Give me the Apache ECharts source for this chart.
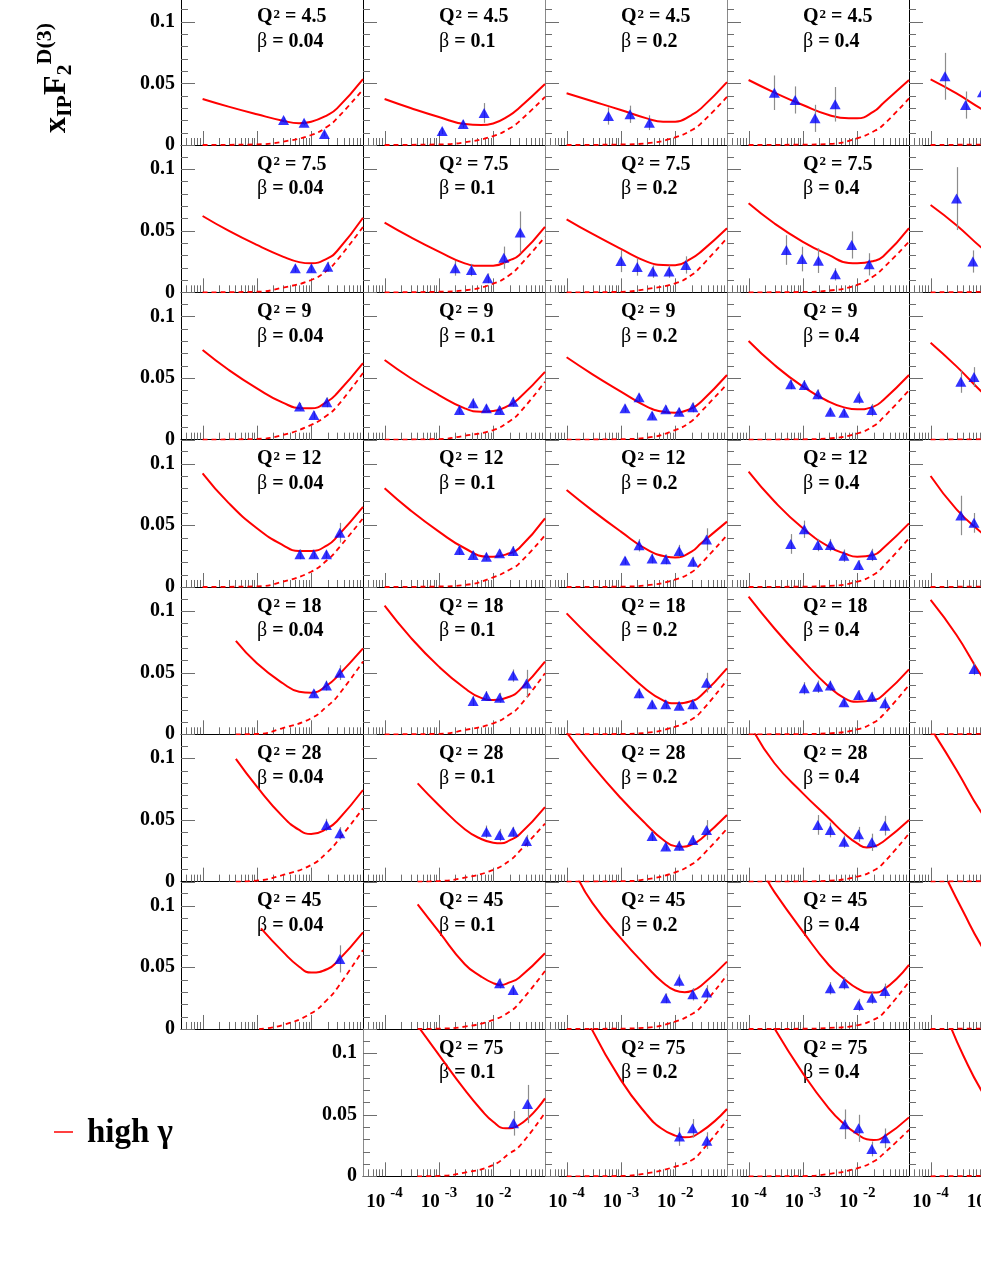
<!DOCTYPE html>
<html><head><meta charset="utf-8">
<script src="https://cdn.jsdelivr.net/npm/echarts@6/dist/echarts.min.js"></script>
<style>html,body{margin:0;padding:0;background:#fff}#c{width:981px;height:1269px}</style>
</head><body><div id="c"></div>
<script>
// ---------------- data ----------------
const Q2 = [4.5, 7.5, 9, 12, 18, 28, 45, 75];
const BETA = [0.04, 0.1, 0.2, 0.4];
const Y_TICK_LABELS = [0, 0.05, 0.1];
const X_DECADES = [1e-4, 1e-3, 1e-2];

// solid (full model) curves, one array per beta column
const solidQ4_5 = [
 [[1e-4,0.0373],[3e-4,0.0311],[1e-3,0.0249],[3e-3,0.0197],[6e-3,0.0177],[1e-2,0.0189],[2e-2,0.0243],[3e-2,0.0297],[0.09,0.0535]],
 [[1e-4,0.0373],[3e-4,0.030],[1e-3,0.0227],[3e-3,0.017],[6e-3,0.0162],[1e-2,0.0175],[2e-2,0.024],[3e-2,0.030],[0.09,0.0495]],
 [[1e-4,0.0419],[3e-4,0.0355],[1e-3,0.0284],[3e-3,0.0216],[6e-3,0.0189],[1e-2,0.0189],[2e-2,0.0243],[3e-2,0.0297],[0.09,0.051]],
 [[1e-4,0.0527],[3e-4,0.0425],[1e-3,0.0324],[3e-3,0.0243],[7e-3,0.0216],[1e-2,0.0216],[2e-2,0.027],[3e-2,0.0338],[0.09,0.0527]],
 [[1e-4,0.0532],[3e-4,0.0418],[8.5e-4,0.0294],[1.2e-3,0.026]]
];
const dashedQ4_5 = [
 [[1e-4,0],[1e-3,0.0005],[3e-3,0.0027],[1e-2,0.0081],[2e-2,0.015],[3e-2,0.0216],[0.09,0.045]],
 [[1e-4,0],[1e-3,0.0005],[3e-3,0.0022],[1e-2,0.0072],[2e-2,0.0135],[3e-2,0.019],[0.09,0.039]],
 [[1e-4,0],[1e-3,0.0004],[3e-3,0.0014],[1e-2,0.0062],[2e-2,0.012],[3e-2,0.0176],[0.09,0.039]],
 [[1e-4,0],[1e-3,0.0003],[3e-3,0.0008],[1e-2,0.0054],[2e-2,0.011],[3e-2,0.0162],[0.09,0.0378]],
 [[1e-4,0],[1.2e-3,0.0004]]
];
const pointsQ4_5 = [
 [[3.1e-3,0.0203,0.002],[7.4e-3,0.018,0.002],[1.75e-2,0.009,0.002]],
 [[1.15e-3,0.0114,0.0025],[2.8e-3,0.017,0.003],[6.8e-3,0.026,0.008]],
 [[5.9e-4,0.0235,0.007],[1.47e-3,0.0249,0.007],[3.35e-3,0.0181,0.006]],
 [[2.98e-4,0.0424,0.014],[7.2e-4,0.0365,0.011],[1.67e-3,0.0216,0.011],[3.92e-3,0.033,0.014]],
 [[1.84e-4,0.0557,0.019],[4.4e-4,0.0324,0.011],[9e-4,0.0427,0.006]]
];

const solidQ7_5 = [
 [[1e-4,0.0619],[3e-4,0.050],[1e-3,0.0384],[3e-3,0.029],[6e-3,0.0245],[1e-2,0.0235],[2e-2,0.0276],[3e-2,0.0335],[0.09,0.0605]],
 [[1e-4,0.0565],[3e-4,0.0447],[1e-3,0.033],[3e-3,0.0235],[6e-3,0.0215],[1e-2,0.0216],[2e-2,0.026],[3e-2,0.030],[0.09,0.053]],
 [[1e-4,0.0592],[3e-4,0.0473],[1e-3,0.0352],[3e-3,0.0249],[6e-3,0.0222],[1e-2,0.022],[2e-2,0.0276],[3e-2,0.033],[0.09,0.052]],
 [[1e-4,0.0722],[3e-4,0.0558],[1e-3,0.041],[3e-3,0.0303],[7e-3,0.0238],[1e-2,0.0236],[2e-2,0.0254],[3e-2,0.029],[0.09,0.052]],
 [[1e-4,0.0708],[3e-4,0.0544],[8.5e-4,0.0365],[1.2e-3,0.032]]
];
const dashedQ7_5 = [
 [[1e-4,0],[1e-3,0.0005],[3e-3,0.0038],[1e-2,0.01],[2e-2,0.018],[3e-2,0.026],[0.09,0.053]],
 [[1e-4,0],[1e-3,0.0005],[3e-3,0.0016],[1e-2,0.007],[2e-2,0.014],[3e-2,0.021],[0.09,0.045]],
 [[1e-4,0],[1e-3,0.0004],[3e-3,0.0027],[1e-2,0.0073],[2e-2,0.014],[3e-2,0.021],[0.09,0.044]],
 [[1e-4,0],[1e-3,0.0003],[3e-3,0.0014],[1e-2,0.006],[2e-2,0.013],[3e-2,0.0195],[0.09,0.041]],
 [[1e-4,0],[1.2e-3,0.0004]]
];
const pointsQ7_5 = [
 [[5.1e-3,0.0195,0.003],[1.01e-2,0.0195,0.003],[2.02e-2,0.0208,0.004]],
 [[1.99e-3,0.0195,0.006],[3.98e-3,0.0181,0.005],[7.9e-3,0.0114,0.004],[1.57e-2,0.0281,0.009],[3.14e-2,0.0486,0.017]],
 [[1e-3,0.0254,0.009],[2e-3,0.0205,0.007],[3.86e-3,0.0168,0.005],[7.7e-3,0.0168,0.005],[1.57e-2,0.0222,0.007]],
 [[4.95e-4,0.0343,0.012],[9.6e-4,0.027,0.01],[1.93e-3,0.0257,0.01],[3.97e-3,0.0146,0.005],[7.9e-3,0.0384,0.011],[1.66e-2,0.0227,0.009]],
 [[3.0e-4,0.076,0.0255],[6.0e-4,0.025,0.009]]
];

const solidQ9 = [
 [[1e-4,0.0727],[3e-4,0.0567],[1e-3,0.0416],[3e-3,0.030],[7e-3,0.0254],[1e-2,0.0254],[2e-2,0.031],[3e-2,0.0376],[0.09,0.062]],
 [[1e-4,0.0646],[3e-4,0.050],[1e-3,0.0362],[3e-3,0.0254],[6e-3,0.0227],[1e-2,0.0232],[2e-2,0.028],[3e-2,0.0335],[0.09,0.055]],
 [[1e-4,0.0668],[3e-4,0.053],[1e-3,0.039],[3e-3,0.0268],[6e-3,0.0227],[1e-2,0.0219],[2e-2,0.0254],[3e-2,0.0308],[0.09,0.0524]],
 [[1e-4,0.080],[3e-4,0.0605],[1e-3,0.043],[3e-3,0.0308],[6e-3,0.026],[1e-2,0.0246],[2e-2,0.0268],[3e-2,0.032],[0.09,0.0524]],
 [[1e-4,0.0786],[3e-4,0.0594],[8.5e-4,0.0393],[1.2e-3,0.034]]
];
const dashedQ9 = [
 [[1e-4,0],[1e-3,0.0006],[3e-3,0.0038],[1e-2,0.012],[2e-2,0.02],[3e-2,0.027],[0.09,0.054]],
 [[1e-4,0],[1e-3,0.0005],[3e-3,0.0032],[1e-2,0.0078],[2e-2,0.015],[3e-2,0.0214],[0.09,0.047]],
 [[1e-4,0],[1e-3,0.0004],[3e-3,0.0016],[1e-2,0.0078],[2e-2,0.015],[3e-2,0.0227],[0.09,0.045]],
 [[1e-4,0],[1e-3,0.0003],[3e-3,0.001],[1e-2,0.005],[2e-2,0.011],[3e-2,0.0178],[0.09,0.040]],
 [[1e-4,0],[1.2e-3,0.0004]]
];
const pointsQ9 = [
 [[6.1e-3,0.0268,0.003],[1.12e-2,0.020,0.003],[1.94e-2,0.0303,0.004]],
 [[2.39e-3,0.024,0.003],[4.27e-3,0.0295,0.004],[7.5e-3,0.0254,0.003],[1.31e-2,0.024,0.003],[2.33e-2,0.0308,0.004]],
 [[1.19e-3,0.0254,0.003],[2.16e-3,0.0343,0.003],[3.75e-3,0.0195,0.003],[6.7e-3,0.0246,0.003],[1.18e-2,0.0227,0.003],[2.11e-2,0.0262,0.004]],
 [[5.96e-4,0.0449,0.004],[1.06e-3,0.0443,0.004],[1.88e-3,0.0368,0.004],[3.2e-3,0.0227,0.003],[5.7e-3,0.0219,0.003],[1.06e-2,0.034,0.005],[1.86e-2,0.024,0.005]],
 [[3.6e-4,0.047,0.009],[6.3e-4,0.0508,0.008]]
];

const solidQ12 = [
 [[1e-4,0.0922],[3e-4,0.0682],[1e-3,0.0476],[3e-3,0.034],[6e-3,0.0292],[1e-2,0.0292],[2e-2,0.034],[3e-2,0.0408],[0.09,0.065]],
 [[1e-4,0.080],[3e-4,0.0621],[1e-3,0.0449],[3e-3,0.0314],[8e-3,0.0246],[1e-2,0.0246],[2e-2,0.0273],[3e-2,0.0314],[0.09,0.0557]],
 [[1e-4,0.0786],[3e-4,0.0619],[1e-3,0.0449],[3e-3,0.0305],[7e-3,0.0246],[1e-2,0.024],[2e-2,0.0286],[3e-2,0.0354],[0.09,0.053]],
 [[1e-4,0.0935],[3e-4,0.0693],[1e-3,0.0476],[3e-3,0.0327],[6e-3,0.027],[1e-2,0.0246],[2e-2,0.026],[3e-2,0.0314],[0.09,0.0516]],
 [[1e-4,0.090],[3e-4,0.063],[8.5e-4,0.0443],[1.2e-3,0.039]]
];
const dashedQ12 = [
 [[1e-4,0],[1e-3,0.0005],[3e-3,0.0043],[1e-2,0.0124],[2e-2,0.022],[3e-2,0.030],[0.09,0.0557]],
 [[1e-4,0],[1e-3,0.0004],[3e-3,0.0016],[1e-2,0.0078],[2e-2,0.014],[3e-2,0.019],[0.09,0.042]],
 [[1e-4,0],[1e-3,0.0003],[3e-3,0.0014],[1e-2,0.006],[2e-2,0.012],[3e-2,0.019],[0.09,0.042]],
 [[1e-4,0],[1e-3,0.0003],[3e-3,0.0008],[1e-2,0.0043],[2e-2,0.01],[3e-2,0.0165],[0.09,0.0395]],
 [[1e-4,0],[1.2e-3,0.0004]]
];
const pointsQ12 = [
 [[6.2e-3,0.0265,0.004],[1.12e-2,0.0265,0.003],[1.91e-2,0.0265,0.003],[3.37e-2,0.044,0.008]],
 [[2.39e-3,0.030,0.004],[4.27e-3,0.026,0.003],[7.5e-3,0.0246,0.003],[1.31e-2,0.0273,0.003],[2.33e-2,0.0292,0.004]],
 [[1.19e-3,0.0214,0.003],[2.16e-3,0.0338,0.005],[3.75e-3,0.0232,0.004],[6.7e-3,0.0224,0.004],[1.18e-2,0.0292,0.005],[2.11e-2,0.0205,0.004],[3.78e-2,0.0386,0.009]],
 [[5.96e-4,0.0349,0.008],[1.06e-3,0.0468,0.007],[1.88e-3,0.034,0.005],[3.2e-3,0.034,0.005],[5.7e-3,0.0254,0.005],[1.06e-2,0.0178,0.004],[1.86e-2,0.026,0.005]],
 [[3.6e-4,0.058,0.016],[6.3e-4,0.052,0.008]]
];

const solidQ18 = [
 [[4.1e-4,0.0757],[1e-3,0.0576],[3e-3,0.0414],[6e-3,0.0346],[1e-2,0.0338],[2e-2,0.040],[3e-2,0.0468],[0.09,0.0697]],
 [[1e-4,0.1043],[3e-4,0.0786],[1e-3,0.0549],[3e-3,0.0373],[6e-3,0.0295],[1e-2,0.0278],[2e-2,0.0305],[3e-2,0.0354],[0.09,0.059]],
 [[1e-4,0.0981],[3e-4,0.0769],[1e-3,0.0549],[3e-3,0.036],[6e-3,0.0275],[1e-2,0.0251],[2e-2,0.027],[3e-2,0.0315],[0.09,0.0535]],
 [[1e-4,0.1116],[3e-4,0.0858],[1e-3,0.060],[3e-3,0.0386],[6e-3,0.029],[1e-2,0.0265],[2e-2,0.0278],[3e-2,0.0319],[0.09,0.0527]],
 [[1e-4,0.109],[3e-4,0.0805],[8.5e-4,0.048],[1.2e-3,0.041]]
];
const dashedQ18 = [
 [[4.1e-4,0],[1e-3,0.0003],[3e-3,0.005],[1e-2,0.013],[2e-2,0.023],[3e-2,0.0305],[0.09,0.059]],
 [[1e-4,0],[1e-3,0.0004],[3e-3,0.0035],[1e-2,0.0089],[2e-2,0.016],[3e-2,0.0224],[0.09,0.0495]],
 [[1e-4,0],[1e-3,0.0003],[3e-3,0.0013],[1e-2,0.0062],[2e-2,0.012],[3e-2,0.0184],[0.09,0.044]],
 [[1e-4,0],[1e-3,0.0002],[3e-3,0.0008],[1e-2,0.004],[2e-2,0.0095],[3e-2,0.0157],[0.09,0.040]],
 [[1e-4,0],[1.2e-3,0.0004]]
];
const pointsQ18 = [
 [[1.12e-2,0.0332,0.003],[1.91e-2,0.0395,0.004],[3.37e-2,0.050,0.006]],
 [[4.27e-3,0.027,0.004],[7.5e-3,0.031,0.004],[1.31e-2,0.0297,0.004],[2.33e-2,0.0476,0.005],[4.11e-2,0.0413,0.011]],
 [[2.16e-3,0.0332,0.004],[3.75e-3,0.0243,0.003],[6.7e-3,0.0243,0.003],[1.18e-2,0.0232,0.003],[2.11e-2,0.0243,0.004],[3.78e-2,0.0419,0.008]],
 [[1.06e-3,0.0373,0.005],[1.88e-3,0.0386,0.005],[3.2e-3,0.0395,0.004],[5.7e-3,0.026,0.003],[1.06e-2,0.0319,0.004],[1.86e-2,0.0305,0.004],[3.23e-2,0.0251,0.005]],
 [[6.3e-4,0.053,0.005]]
];

const solidQ28 = [
 [[4.1e-4,0.0995],[1e-3,0.077],[3e-3,0.0527],[6e-3,0.0419],[1e-2,0.0386],[2e-2,0.0432],[3e-2,0.0492],[0.09,0.0743]],
 [[4.06e-4,0.0797],[1e-3,0.062],[3e-3,0.0425],[6e-3,0.0346],[1e-2,0.0316],[1.4e-2,0.0311],[2e-2,0.0335],[3e-2,0.038],[0.09,0.0605]],
 [[1e-4,0.121],[3e-4,0.094],[1e-3,0.0676],[3e-3,0.046],[6e-3,0.034],[1e-2,0.0288],[1.4e-2,0.0283],[2e-2,0.030],[3e-2,0.0346],[0.09,0.054]],
 [[1.2e-4,0.123],[3e-4,0.096],[1e-3,0.0716],[3e-3,0.0514],[6e-3,0.0385],[1e-2,0.031],[1.5e-2,0.0276],[2e-2,0.0284],[3e-2,0.0324],[0.09,0.050]],
 [[1.2e-4,0.119],[3e-4,0.0906],[8.5e-4,0.0565],[1.2e-3,0.05]]
];
const dashedQ28 = [
 [[4.1e-4,0],[1e-3,0.0008],[3e-3,0.0054],[1e-2,0.0135],[2e-2,0.024],[3e-2,0.0324],[0.09,0.0595]],
 [[4.06e-4,0],[1e-3,0.0005],[3e-3,0.0032],[1e-2,0.0095],[2e-2,0.017],[3e-2,0.0243],[0.09,0.047]],
 [[1e-4,0],[1e-3,0.0004],[3e-3,0.002],[1e-2,0.0076],[2e-2,0.014],[3e-2,0.0203],[0.09,0.043]],
 [[1e-4,0],[1e-3,0.0002],[3e-3,0.0008],[1e-2,0.004],[2e-2,0.009],[3e-2,0.0149],[0.09,0.039]],
 [[1e-4,0],[1.2e-3,0.0004]]
];
const pointsQ28 = [
 [[1.91e-2,0.046,0.005],[3.37e-2,0.0392,0.005]],
 [[7.5e-3,0.0405,0.005],[1.31e-2,0.0378,0.005],[2.33e-2,0.0405,0.004],[4.11e-2,0.033,0.005]],
 [[3.75e-3,0.037,0.004],[6.7e-3,0.0284,0.003],[1.18e-2,0.0292,0.004],[2.11e-2,0.0338,0.004],[3.78e-2,0.0419,0.008]],
 [[1.88e-3,0.046,0.008],[3.2e-3,0.0419,0.006],[5.7e-3,0.0324,0.005],[1.06e-2,0.0384,0.006],[1.86e-2,0.0319,0.007],[3.23e-2,0.0454,0.008]],
 []
];

const solidQ45 = [
 [[1.19e-3,0.0816],[3e-3,0.0627],[6e-3,0.0505],[1e-2,0.0457],[2e-2,0.0486],[3e-2,0.0546],[0.09,0.0784]],
 [[4.06e-4,0.101],[1e-3,0.0789],[3e-3,0.0525],[6e-3,0.0425],[1e-2,0.0372],[1.4e-2,0.0357],[2e-2,0.0378],[3e-2,0.0416],[0.09,0.0614]],
 [[1.6e-4,0.1225],[3e-4,0.102],[1e-3,0.0735],[3e-3,0.0505],[6e-3,0.0375],[1e-2,0.0312],[1.5e-2,0.0298],[2e-2,0.0308],[3e-2,0.0351],[0.09,0.0546]],
 [[2.1e-4,0.1225],[3e-4,0.111],[1e-3,0.079],[3e-3,0.0519],[6e-3,0.040],[1e-2,0.033],[1.6e-2,0.0295],[2e-2,0.0295],[3e-2,0.0316],[0.09,0.0519]],
 [[2.1e-4,0.1194],[4e-4,0.095],[8.5e-4,0.068],[1.2e-3,0.06]]
];
const dashedQ45 = [
 [[1.1e-3,0],[3e-3,0.0032],[1e-2,0.0127],[2e-2,0.024],[3e-2,0.033],[0.09,0.064]],
 [[4.06e-4,0],[1e-3,0.0003],[3e-3,0.0019],[1e-2,0.0073],[2e-2,0.014],[3e-2,0.0208],[0.09,0.047]],
 [[1e-4,0],[1e-3,0.0003],[3e-3,0.0011],[1e-2,0.006],[2e-2,0.012],[3e-2,0.018],[0.09,0.0438]],
 [[1e-4,0],[1e-3,0.0002],[3e-3,0.0008],[1e-2,0.003],[2e-2,0.0075],[3e-2,0.0127],[0.09,0.0384]],
 [[1e-4,0],[1.2e-3,0.0004]]
];
const pointsQ45 = [
 [[3.37e-2,0.0568,0.011]],
 [[1.31e-2,0.037,0.004],[2.33e-2,0.0316,0.004]],
 [[6.7e-3,0.0249,0.004],[1.18e-2,0.0392,0.005],[2.11e-2,0.0281,0.005],[3.78e-2,0.0295,0.006]],
 [[3.2e-3,0.033,0.005],[5.7e-3,0.037,0.005],[1.06e-2,0.0195,0.005],[1.86e-2,0.0254,0.005],[3.23e-2,0.0308,0.006]],
 []
];

const solidQ75 = [
 null,
 [[4e-4,0.1225],[1e-3,0.0984],[3e-3,0.070],[6e-3,0.054],[1e-2,0.0443],[1.7e-2,0.0389],[3e-2,0.0416],[0.09,0.0632]],
 [[2.7e-4,0.122],[1e-3,0.078],[3e-3,0.050],[5.5e-3,0.039],[1e-2,0.033],[1.5e-2,0.0316],[3e-2,0.0362],[0.09,0.0546]],
 [[2.9e-4,0.121],[1e-3,0.0835],[3e-3,0.0551],[6e-3,0.0416],[1e-2,0.0343],[1.5e-2,0.030],[2e-2,0.0295],[3e-2,0.0316],[0.09,0.0478]],
 [[2.3e-4,0.122],[4e-4,0.098],[8.5e-4,0.070],[1.2e-3,0.062]]
];
const dashedQ75 = [
 null,
 [[4e-4,0],[1e-3,0.0003],[3e-3,0.003],[1e-2,0.0092],[2e-2,0.0186],[3e-2,0.024],[0.09,0.0516]],
 [[1e-4,0],[1e-3,0.0003],[3e-3,0.0025],[1e-2,0.0078],[2e-2,0.013],[3e-2,0.02],[0.09,0.0457]],
 [[1e-4,0],[1e-3,0.0002],[3e-3,0.0019],[1e-2,0.0065],[2e-2,0.012],[3e-2,0.018],[0.09,0.0376]],
 [[1e-4,0],[1.2e-3,0.0004]]
];
const pointsQ75 = [
 null,
 [[2.37e-2,0.043,0.01],[4.29e-2,0.0586,0.0155]],
 [[1.2e-2,0.0322,0.0075],[2.09e-2,0.0389,0.0075],[3.83e-2,0.0289,0.0068]],
 [[5.9e-3,0.0422,0.012],[1.06e-2,0.0389,0.011],[1.86e-2,0.0222,0.006],[3.27e-2,0.0308,0.008]],
 []
];

const SOLID  = [solidQ4_5, solidQ7_5, solidQ9, solidQ12, solidQ18, solidQ28, solidQ45, solidQ75];
const DASHED = [dashedQ4_5, dashedQ7_5, dashedQ9, dashedQ12, dashedQ18, dashedQ28, dashedQ45, dashedQ75];
const POINTS = [pointsQ4_5, pointsQ7_5, pointsQ9, pointsQ12, pointsQ18, pointsQ28, pointsQ45, pointsQ75];

// ---------------- layout & style ----------------
const FONT = '"Liberation Serif", "Times New Roman", serif';
const XMIN = 4e-5, XMAX = 0.09;
const W = 182, H = 147.33;
const LEFT0 = 181, BOTTOM0 = 145;
const YMAX = H / 1233.3;
const RED = '#ff0000', BLUE = '#0000ff', TICK = '#6e6e6e';
const SMOOTH = 0.5;

const X_MINOR = [];
[1e-5, 1e-4, 1e-3, 1e-2].forEach(d => {
  for (let m = 2; m <= 9; m++) { const v = m * d; if (v > XMIN * 1.001 && v < XMAX * 0.999) X_MINOR.push(v); }
});
const Y_MINOR = [0.01, 0.02, 0.03, 0.04, 0.06, 0.07, 0.08, 0.09, 0.11];
const TICK_DATA = [].concat(
  X_MINOR.map(v => [v, 0, 0]),
  X_DECADES.map(v => [v, 0, 1]),
  Y_MINOR.map(v => [XMIN, v, 2]),
  Y_TICK_LABELS.map(v => [XMIN, v, 3])
);

function renderTick(params, api) {
  const kind = api.value(2);
  const p = api.coord([api.value(0), api.value(1)]);
  if (kind < 2) {
    const len = kind === 1 ? 14 : 7;
    const x = Math.round(p[0]) + 0.5;
    return { type: 'line', shape: { x1: x, y1: p[1], x2: x, y2: p[1] - len }, style: { stroke: TICK, lineWidth: 1 } };
  }
  const len = kind === 3 ? 14 : 7;
  const y = Math.round(p[1]) + 0.5;
  return { type: 'line', shape: { x1: p[0], y1: y, x2: p[0] + len, y2: y }, style: { stroke: TICK, lineWidth: 1 } };
}
function renderErr(params, api) {
  const x = api.value(0), y = api.value(1), e = api.value(2);
  const a = api.coord([x, y - e]), b = api.coord([x, y + e]);
  const px = Math.round(a[0]) + 0.5;
  return { type: 'line', shape: { x1: px, y1: a[1], x2: px, y2: b[1] }, style: { stroke: '#8c8c8c', lineWidth: 1.2 } };
}

const grids = [], xAxes = [], yAxes = [], series = [], graphics = [];
let gi = 0;
for (let r = 0; r < 8; r++) {
  for (let c = 0; c < 5; c++) {
    const solid = SOLID[r][c];
    if (!solid) continue;
    const left = LEFT0 + c * W, bottom = BOTTOM0 + r * H, top = bottom - H;
    grids.push({ left: left, top: top, width: W, height: H, containLabel: false, outerBoundsMode: 'none', show: false });
    const showX = (r === 7);
    const showY = (c === 0) || (r === 7 && c === 1);
    const yLineColor = (c === 0 || c === 4 || (c === 1 && r < 7)) ? '#000' : '#8a8a8a';
    xAxes.push({
      type: 'log', logBase: 10, gridIndex: gi, min: XMIN, max: XMAX,
      axisLine: { show: true, onZero: false, lineStyle: { color: '#000', width: 1 } },
      axisTick: { show: false }, minorTick: { show: false }, splitLine: { show: false }, minorSplitLine: { show: false },
      axisLabel: {
        show: showX, margin: 16, showMinLabel: false, showMaxLabel: false, hideOverlap: false,
        formatter: v => { const l = Math.log10(v), e = Math.round(l); return Math.abs(l - e) < 1e-6 ? '{b|10}{s|' + e + '}' : ''; },
        rich: {
          b: { fontFamily: FONT, fontWeight: 'bold', fontSize: 19, lineHeight: 19, color: '#000', verticalAlign: 'bottom' },
          s: { fontFamily: FONT, fontWeight: 'bold', fontSize: 15, lineHeight: 15, color: '#000', verticalAlign: 'bottom', padding: [0, 0, 11, 5] }
        }
      }
    });
    yAxes.push({
      type: 'value', gridIndex: gi, min: 0, max: YMAX, interval: 0.05,
      axisLine: { show: true, onZero: false, lineStyle: { color: yLineColor, width: 1 } },
      axisTick: { show: false }, splitLine: { show: false },
      axisLabel: {
        show: showY, margin: 6, showMaxLabel: false, showMinLabel: true, padding: [4, 0, 0, 0],
        fontFamily: FONT, fontWeight: 'bold', fontSize: 20, color: '#000',
        formatter: v => (Math.abs(v) < 1e-9 ? '0' : String(+v.toFixed(2)))
      }
    });
    const common = { xAxisIndex: gi, yAxisIndex: gi, silent: true, animation: false };
    series.push(Object.assign({ type: 'custom', renderItem: renderTick, data: TICK_DATA, encode: { x: 0, y: 1 }, z: 1 }, common));
    series.push(Object.assign({ type: 'line', data: DASHED[r][c], showSymbol: false, smooth: SMOOTH, clip: true,
      lineStyle: { color: RED, width: 1.8, type: [5, 4] }, z: 2 }, common));
    series.push(Object.assign({ type: 'line', data: solid, showSymbol: false, smooth: SMOOTH, clip: true,
      lineStyle: { color: RED, width: 2 }, z: 2 }, common));
    const pts = POINTS[r][c] || [];
    series.push(Object.assign({ type: 'custom', renderItem: renderErr, data: pts, encode: { x: 0, y: 1 }, z: 3 }, common));
    series.push(Object.assign({ type: 'scatter', data: pts.map(p => [p[0], p[1]]), symbol: 'triangle', symbolSize: [11, 10],
      itemStyle: { color: BLUE }, z: 4 }, common));
    if (c < 4) {
      graphics.push({ type: 'text', x: left + 76, y: top + 19.5, silent: true,
        style: { text: '{q|Q}{s|2}{q| = ' + Q2[r] + '}', align: 'left', verticalAlign: 'middle',
          rich: { q: { fontFamily: FONT, fontWeight: 'bold', fontSize: 20, lineHeight: 20, fill: '#000', verticalAlign: 'bottom' },
                  s: { fontFamily: FONT, fontWeight: 'bold', fontSize: 13, lineHeight: 13, fill: '#000', verticalAlign: 'bottom', padding: [0, 0, 6, 1] } } } });
      graphics.push({ type: 'text', x: left + 76, y: top + 44, silent: true,
        style: { text: '{g|\u03b2}{t| = ' + BETA[c] + '}', align: 'left', verticalAlign: 'middle',
          rich: { g: { fontFamily: FONT, fontWeight: 'normal', fontSize: 20, fill: '#000' },
                  t: { fontFamily: FONT, fontWeight: 'bold', fontSize: 20, fill: '#000' } } } });
    }
    gi++;
  }
}

// y-axis title (rotated) and legend
graphics.push({ type: 'text', x: 76, y: 133, rotation: Math.PI / 2, silent: true,
  style: { text: '{b|x}{sub|IP}{b|F}{sub|2}{sup|D(3)}', align: 'left', verticalAlign: 'bottom',
    rich: {
      b:   { fontFamily: FONT, fontWeight: 'bold', fontSize: 32, lineHeight: 32, fill: '#000', verticalAlign: 'bottom', padding: [0, 0, 3, 0] },
      sub: { fontFamily: FONT, fontWeight: 'bold', fontSize: 22, lineHeight: 22, fill: '#000', verticalAlign: 'bottom' },
      sup: { fontFamily: FONT, fontWeight: 'bold', fontSize: 22, lineHeight: 22, fill: '#000', verticalAlign: 'bottom', padding: [0, 0, 20, 0] }
    } } });
graphics.push({ type: 'line', silent: true, shape: { x1: 54, y1: 1132, x2: 73, y2: 1132 }, style: { stroke: RED, lineWidth: 1.5 } });
graphics.push({ type: 'text', x: 87, y: 1133, silent: true,
  style: { text: 'high \u03b3', fontFamily: FONT, fontWeight: 'bold', fontSize: 33, fill: '#000', align: 'left', verticalAlign: 'middle' } });

const chart = echarts.init(document.getElementById('c'), null, { renderer: 'canvas', width: 981, height: 1269 });
chart.setOption({
  animation: false,
  backgroundColor: '#fff',
  textStyle: { fontFamily: FONT },
  grid: grids, xAxis: xAxes, yAxis: yAxes, series: series,
  graphic: { elements: graphics }
});
</script>
</body></html>
